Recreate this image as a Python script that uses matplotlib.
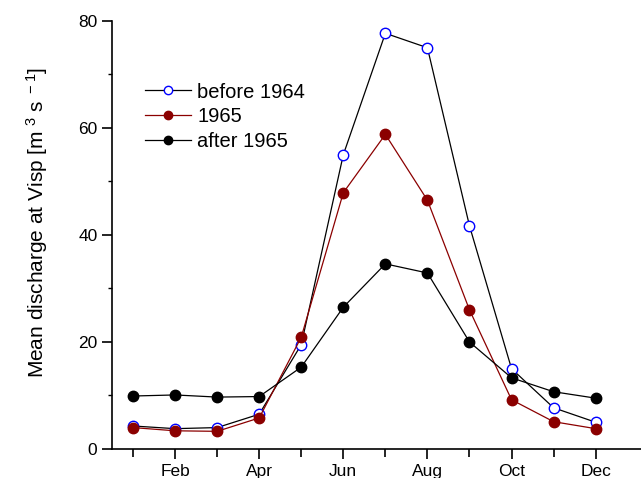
import numpy as np
import matplotlib.pyplot as plt
from matplotlib.ticker import MultipleLocator, FixedLocator

plt.rcParams['font.family'] = ['Liberation Sans', 'DejaVu Sans']
plt.rcParams['mathtext.default'] = 'regular'

months = np.arange(1, 13)
tick_months = [2, 4, 6, 8, 10, 12]
tick_labels = ['Feb', 'Apr', 'Jun', 'Aug', 'Oct', 'Dec']

before_1964 = [4.3, 3.8, 4.0, 6.5, 19.5, 55.0, 77.7, 75.0, 41.7, 15.0, 7.7, 5.0]
year_1965 = [4.0, 3.4, 3.3, 5.8, 20.9, 47.9, 58.8, 46.5, 26.0, 9.2, 5.1, 3.8]
after_1965 = [9.9, 10.1, 9.7, 9.8, 15.3, 26.5, 34.6, 32.9, 20.0, 13.3, 10.7, 9.5]

fig = plt.figure(figsize=(6.41, 4.78), dpi=100)
ax = fig.add_axes([0.1747, 0.0607, 0.853, 0.8954])

ax.plot(months, before_1964, color='black', lw=0.9, marker='o', ms=7.5,
        mfc='white', mec='blue', mew=1.0, label='before 1964')
ax.plot(months, year_1965, color='#8b0000', lw=0.9, marker='o', ms=7.5,
        mfc='#8b0000', mec='#8b0000', label='1965')
ax.plot(months, after_1965, color='black', lw=0.9, marker='o', ms=7.5,
        mfc='black', mec='black', label='after 1965')

ax.set_xlim(0.5, 13.5)
ax.set_ylim(0, 80)
ax.spines['top'].set_visible(False)
ax.spines['right'].set_visible(False)
ax.spines['left'].set_linewidth(1.2)
ax.spines['bottom'].set_linewidth(1.2)

ax.xaxis.set_major_locator(FixedLocator(tick_months))
ax.set_xticklabels(tick_labels)
ax.xaxis.set_minor_locator(FixedLocator([1, 3, 5, 7, 9, 11]))
ax.yaxis.set_major_locator(MultipleLocator(20))
ax.yaxis.set_minor_locator(MultipleLocator(10))
ax.tick_params(axis='both', which='major', direction='out', length=7, width=1.2,
               labelsize=12.5)
ax.tick_params(axis='x', which='minor', direction='out', length=6, width=1.2)
ax.tick_params(axis='y', which='minor', direction='out', length=3, width=1.0)

ax.set_ylabel('Mean discharge at Visp [m$^{\\ 3}$ s$^{\\ -1}$]', fontsize=15, labelpad=20)
ax.yaxis.label.set_y(0.53)

leg = ax.legend(loc='upper left', bbox_to_anchor=(0.045, 0.875), frameon=False,
                fontsize=14.5, handlelength=2.3, handletextpad=0.3, labelspacing=0.28,
                borderaxespad=0, markerscale=0.8)

fig.savefig('out.png', dpi=100)
